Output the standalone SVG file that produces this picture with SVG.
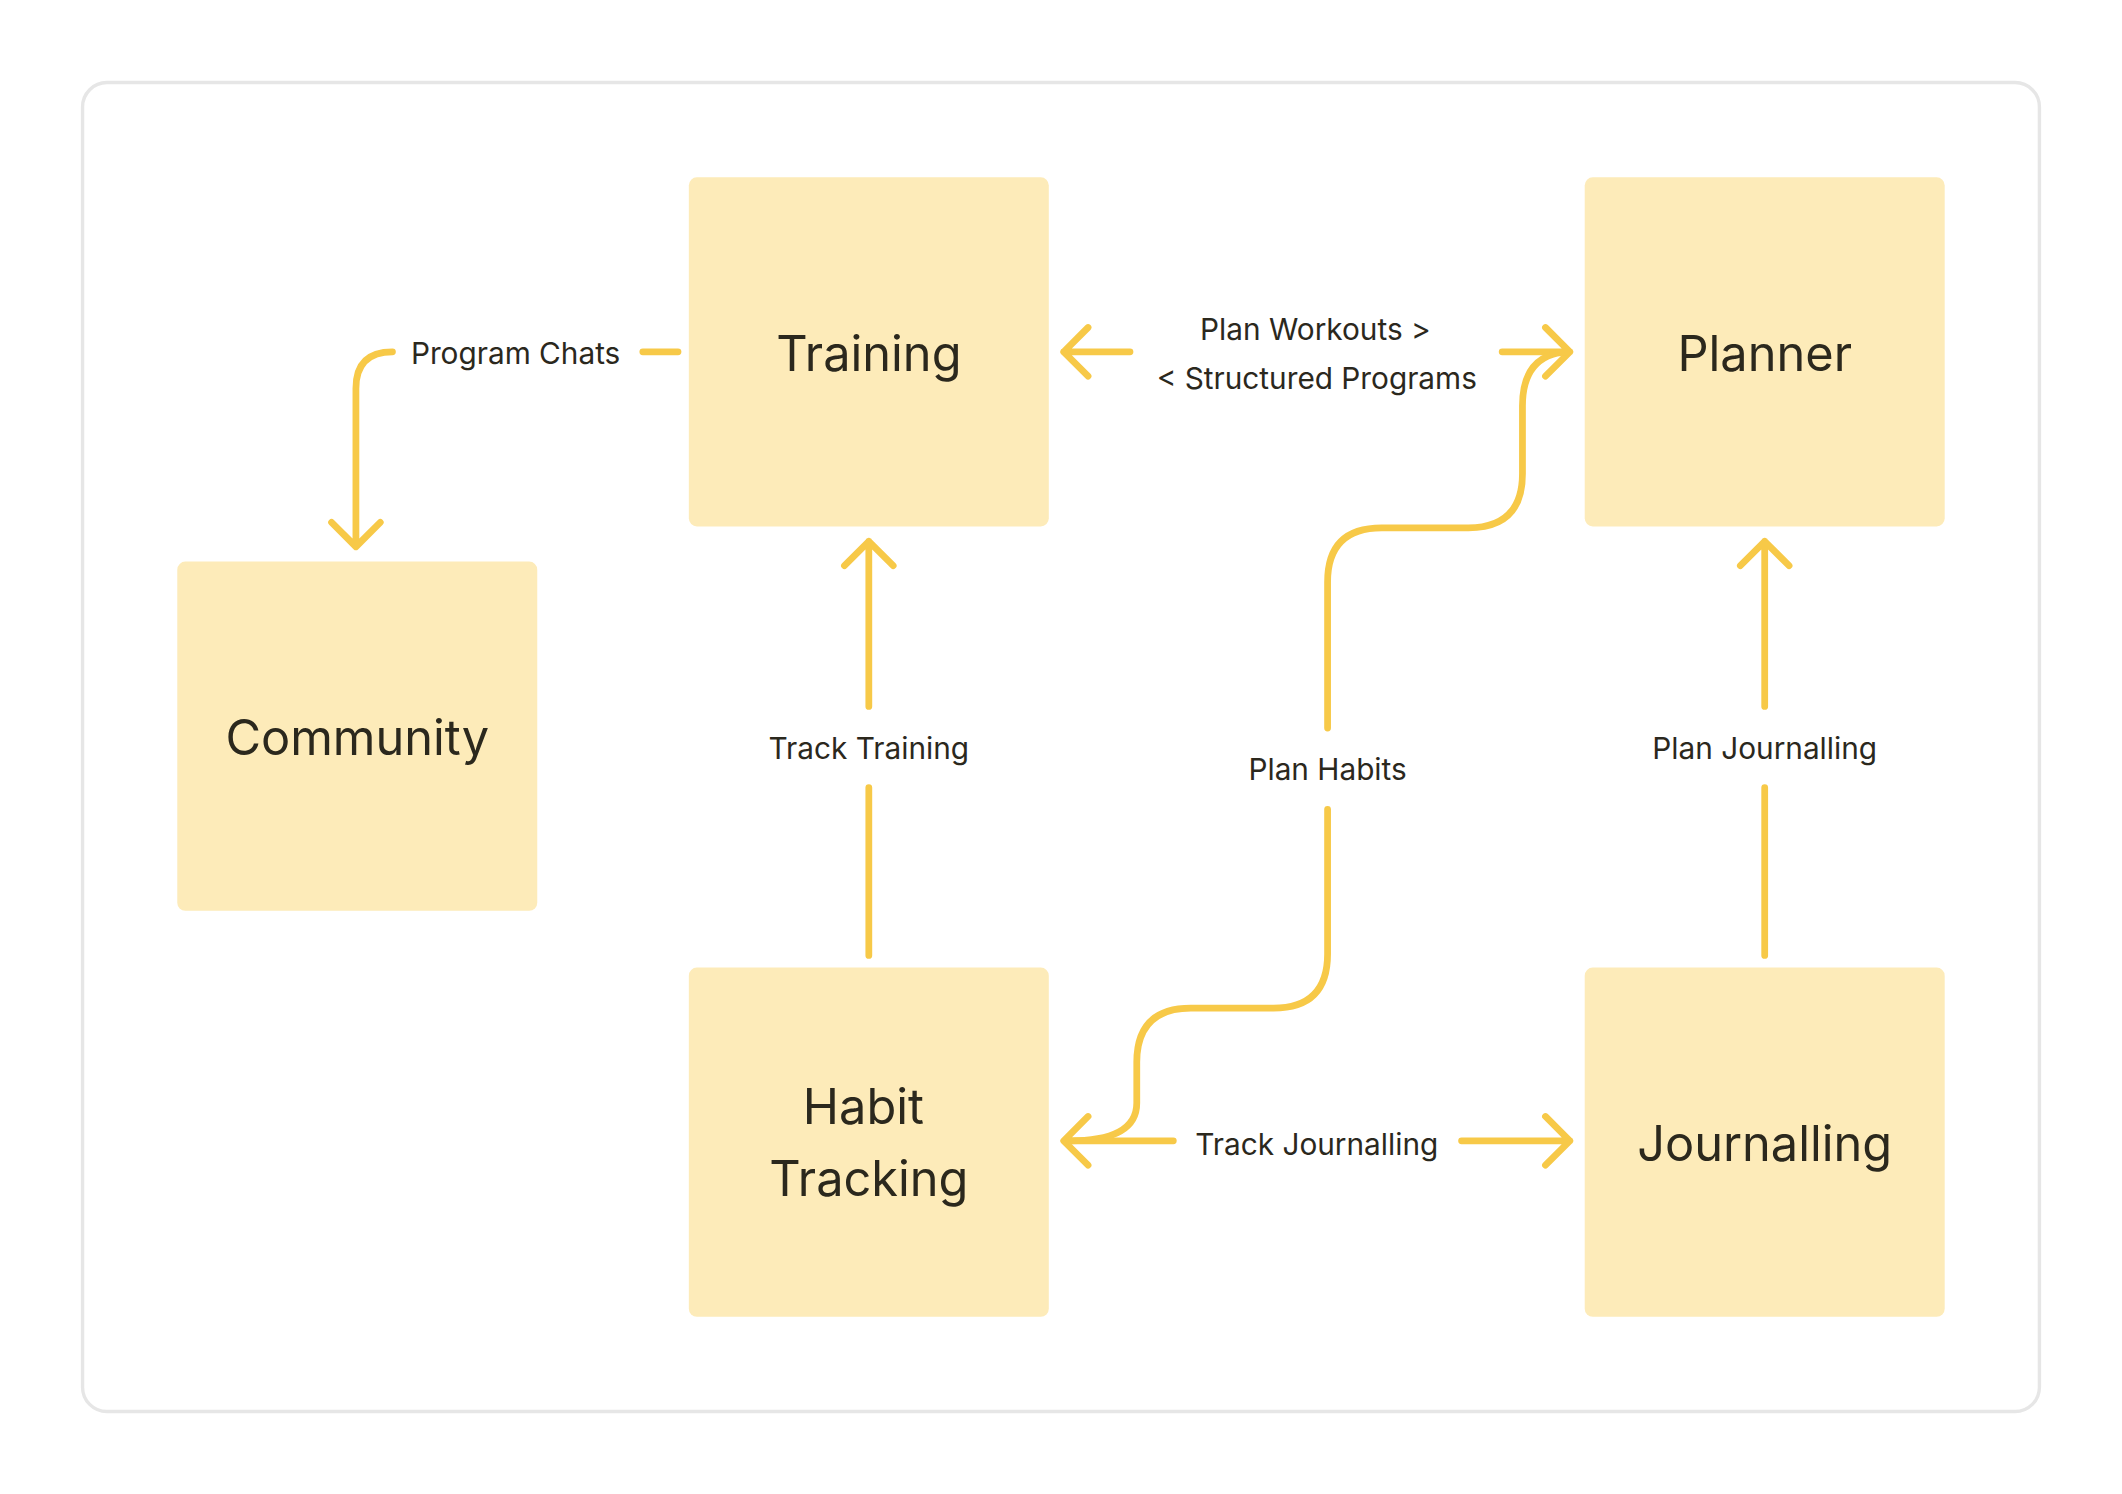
<svg xmlns="http://www.w3.org/2000/svg" width="2122" height="1494" viewBox="0 0 2122 1494">
<style>
.box{fill:#fdebb9}
.t{font-family:Inter,"Liberation Sans",sans-serif;font-size:36px;fill:#2b281d;text-anchor:middle;dominant-baseline:central}
.l{font-family:Inter,"Liberation Sans",sans-serif;font-size:22px;fill:#2b281d;text-anchor:middle;dominant-baseline:central}
.c{fill:none;stroke:#f7c948;stroke-width:5;stroke-linecap:round;stroke-linejoin:round}
</style>
<rect width="2122" height="1494" fill="#fff"/>
<g transform="scale(1.3533)">
<rect x="61" y="61" width="1446" height="982" rx="18" fill="#fff" stroke="#e6e6e6" stroke-width="2.5"/>
<g id="connectors" class="c">
<path d="M501 260 L475 260"/>
<path d="M290 260 Q263 260 263 287 L263 403 M245 386 L263 404 L281 386"/>
<path d="M835 260 L786 260 M804 242 L786 260 L804 278"/>
<path d="M1110 260 L1160 260 M1142 242 L1160 260 L1142 278"/>
<path d="M642 706 L642 582 M642 522 L642 400 M624 418 L642 400 L660 418"/>
<path d="M981 538 L981 430 Q981 390 1021 390 L1085 390 Q1125 390 1125 350 L1125 300 Q1125 262 1158 260"/>
<path d="M981 598 L981 705 Q981 745 941 745 L880 745 Q840 745 840 785 L840 815 Q840 843 790 843 M804 825 L786 843 L804 861"/>
<path d="M867 843 L790 843"/>
<path d="M1080 843 L1160 843 M1142 825 L1160 843 L1142 861"/>
<path d="M1304 706 L1304 582 M1304 522 L1304 400 M1286 418 L1304 400 L1322 418"/>
</g>
<g id="labels">
<text class="l" x="381" y="261">Program Chats</text>
<text class="l" x="972" y="243">Plan Workouts &gt;</text>
<text class="l" x="973" y="279">&lt; Structured Programs</text>
<text class="l" x="642" y="553">Track Training</text>
<text class="l" x="981" y="568">Plan Habits</text>
<text class="l" x="1304" y="553">Plan Journalling</text>
<text class="l" x="973" y="845">Track Journalling</text>
</g>
<g id="training"><rect class="box" x="509" y="131" width="266" height="258" rx="6"/><text class="t" x="642" y="261">Training</text></g>
<g id="planner"><rect class="box" x="1171" y="131" width="266" height="258" rx="6"/><text class="t" x="1304" y="261">Planner</text></g>
<g id="community"><rect class="box" x="131" y="415" width="266" height="258" rx="6"/><text class="t" x="264" y="545">Community</text></g>
<g id="habit"><rect class="box" x="509" y="715" width="266" height="258" rx="6"/><text class="t" x="638" y="818">Habit</text><text class="t" x="642" y="871">Tracking</text></g>
<g id="journalling"><rect class="box" x="1171" y="715" width="266" height="258" rx="6"/><text class="t" x="1304" y="845">Journalling</text></g>
</g>
</svg>
